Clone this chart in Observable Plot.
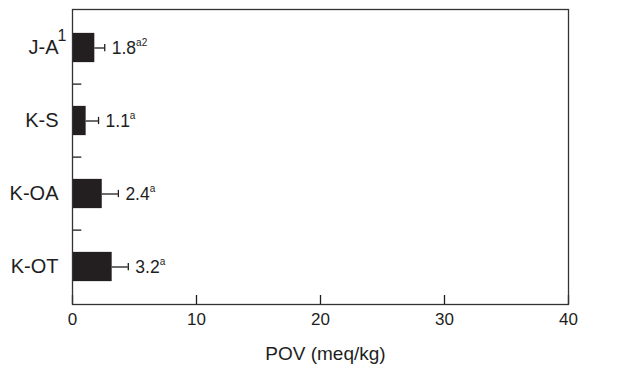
<!DOCTYPE html>
<html><head><meta charset="utf-8">
<script src="https://cdn.jsdelivr.net/npm/d3@7"></script>
<script src="https://cdn.jsdelivr.net/npm/@observablehq/plot@0.6"></script>
<style>
html,body{margin:0;padding:0;background:#fff;}
#chart{width:627px;height:367px;}
</style></head><body><div id="chart"></div>
<script>
const categories = ["J-A", "K-S", "K-OA", "K-OT"];
const pov = [1.8, 1.1, 2.4, 3.2];
const sd = [0.8, 1.0, 1.3, 1.3];
const valueLabels = ["1.8", "1.1", "2.4", "3.2"];
const letters = ["a2", "a", "a", "a"];
const xTicks = [0, 10, 20, 30, 40];
const xLabel = "POV (meq/kg)";
const noteCategories = ["J-A"];
const noteMarks = ["1"];

const W = 627, H = 367, mT = 9, mB = 63, mL = 72, mR = 59;
const step = (H - mT - mB) / categories.length;
const rows = categories.map((c, i) => ({cat: c, v: pov[i], hi: pov[i] + sd[i], label: valueLabels[i], sup: letters[i]}));
const notes = noteCategories.map((c, i) => ({cat: c, mark: noteMarks[i]}));
const font = 'Arial,"Liberation Sans",Helvetica,sans-serif';
const ink = "#1e1e1e";

const chart = Plot.plot({
  width: W, height: H, marginTop: mT, marginBottom: mB, marginLeft: mL, marginRight: mR,
  style: {fontFamily: font, color: ink, background: "#fff"},
  x: {domain: [0, 40]},
  y: {domain: categories, padding: 0},
  marks: [
    Plot.barX(rows, {x: "v", y: "cat", fill: "#231f20", insetTop: (step - 30) / 2, insetBottom: (step - 30) / 2}),
    Plot.ruleY(rows, {y: "cat", x1: "v", x2: "hi", stroke: ink, strokeWidth: 1.3}),
    Plot.tickX(rows, {x: "hi", y: "cat", stroke: ink, strokeWidth: 1.3, insetTop: (step - 8) / 2, insetBottom: (step - 8) / 2}),
    Plot.text(rows, {x: "hi", y: "cat", text: "label", dx: 7, textAnchor: "start", fontSize: 17.5, fill: ink, className: "value-label"}),
    Plot.ruleY(categories.slice(1), {y: d => d, x1: 0, x2: 0.75, dy: -step / 2, stroke: ink, strokeWidth: 1.3}),
    Plot.axisX({ticks: xTicks, tickSize: 9, dy: -9, fill: "none", stroke: ink, strokeWidth: 1.3, label: null}),
    Plot.axisX({ticks: xTicks, tickSize: 0, tickPadding: 8, fontSize: 17, fill: ink, label: null}),
    Plot.axisY({tickSize: 0, tickPadding: 14, fontSize: 20, fill: ink, label: null}),
    Plot.text(notes, {y: "cat", x: 0, text: "mark", dx: -15, dy: -12, textAnchor: "start", fontSize: 16, fill: ink}),
    Plot.text([xLabel], {text: d => d, frameAnchor: "bottom", dx: 5, dy: 55, fontSize: 19, fill: ink}),
    Plot.frame({stroke: "#333", strokeWidth: 1.3})
  ]
});
document.getElementById("chart").appendChild(chart);

const NS = "http://www.w3.org/2000/svg";
chart.querySelectorAll('g.value-label text').forEach((t, i) => {
  const ts = document.createElementNS(NS, "tspan");
  ts.setAttribute("font-size", 10);
  ts.setAttribute("dy", -8);
  ts.textContent = rows[i].sup;
  t.appendChild(ts);
});
</script></body></html>
